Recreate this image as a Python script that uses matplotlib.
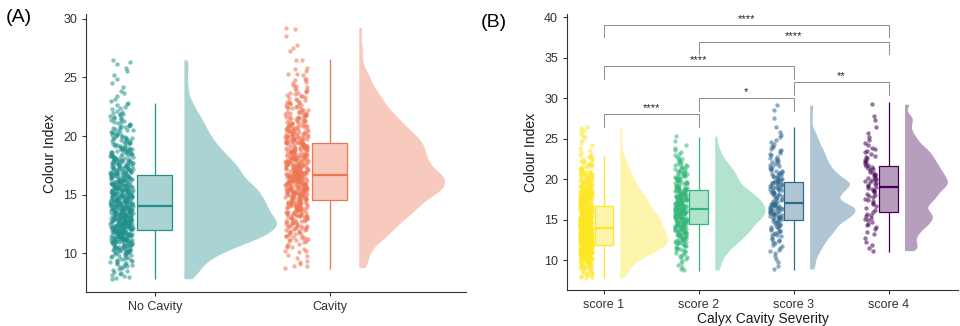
import numpy as np
import matplotlib
matplotlib.use("Agg")
import matplotlib.pyplot as plt
from matplotlib.patches import Rectangle
from matplotlib.colors import to_rgba

plt.rcParams['font.family'] = ['Liberation Sans', 'DejaVu Sans']

# colour index counts per 1-unit bin (first bin starts at the group minimum)
score_labels = ["score 1", "score 2", "score 3", "score 4"]
score_min = [7.8, 8.7, 8.8, 11.0]
score_max = [26.6, 25.6, 29.3, 29.5]
score1_counts = [3, 12, 21, 42, 69, 81, 72, 68, 62, 50, 45, 35, 26, 20, 15, 9, 4, 3, 3, 3]
score2_counts = [2, 4, 7, 12, 19, 25, 29, 36, 37, 33, 26, 18, 16, 12, 7, 4, 2, 1]
score3_counts = [1, 2, 3, 5, 7, 10, 12, 18, 20, 11, 14, 18, 12, 9, 7, 6, 4, 3, 1, 1, 1, 1]
score4_counts = [3, 2, 3, 5, 6, 4, 6, 7, 9, 8, 7, 6, 5, 3, 2, 1, 2, 0, 1]

# boxplot stats: whisker low, q1, median, q3, whisker high
score_box = [
    [7.8, 11.9, 14.0, 16.7, 22.8],
    [8.7, 14.4, 16.25, 18.7, 25.2],
    [8.8, 14.9, 17.0, 19.7, 26.5],
    [11.0, 15.95, 19.0, 21.6, 29.5],
]
cavity_labels = ["No Cavity", "Cavity"]
cavity_box = [
    [7.8, 11.95, 14.05, 16.7, 22.8],
    [8.7, 14.55, 16.7, 19.4, 26.6],
]

# pairwise comparisons in panel B
comp_pairs = [(1, 2), (2, 3), (3, 4), (1, 3), (2, 4), (1, 4)]
comp_heights = [28.0, 30.0, 32.0, 34.0, 37.0, 39.1]
comp_labels = ["****", "*", "**", "****", "****", "****"]

score_colors = ["#FDE725", "#35B779", "#31688E", "#440154"]
cavity_colors = ["#21908C", "#EE7452"]

rng = np.random.default_rng(3)


def expand(counts, lo, hi):
    start = int(np.floor(lo))
    edges = [lo] + list(range(start + 1, start + len(counts))) + [hi]
    ys = []
    for k, c in enumerate(counts):
        if c == 0:
            continue
        a, b = edges[k], edges[k + 1]
        ys.append(a + (b - a) * (np.arange(c) + 0.5) / c)
    return np.concatenate(ys)


def kde(y, grid, bw=0.5):
    z = (grid[:, None] - y[None, :]) / bw
    return np.exp(-0.5 * z ** 2).sum(1) / (len(y) * bw * np.sqrt(2 * np.pi))


def raincloud(ax, x0, y, box, color, scale):
    jit = rng.uniform(-0.065, 0.065, len(y))
    ax.scatter(x0 - 0.19 + jit, y, s=10, color=color, alpha=0.55, lw=0, zorder=2)
    grid = np.linspace(y.min(), y.max(), 300)
    d = kde(y, grid)
    ax.fill_betweenx(grid, x0 + 0.166, x0 + 0.166 + d * scale,
                     color=to_rgba(color, 0.38), lw=0, zorder=1)
    lo, q1, med, q3, hi = box
    ax.add_patch(Rectangle((x0 - 0.1, q1), 0.2, q3 - q1, facecolor=to_rgba(color, 0.38),
                           edgecolor=color, lw=0.9, zorder=3))
    ax.vlines(x0, lo, q1, color=color, lw=0.9, zorder=3)
    ax.vlines(x0, q3, hi, color=color, lw=0.9, zorder=3)
    ax.hlines(med, x0 - 0.1, x0 + 0.1, color=color, lw=1.6, zorder=4)


def style(ax):
    for s in ["top", "right"]:
        ax.spines[s].set_visible(False)
    for s in ["left", "bottom"]:
        ax.spines[s].set_color("#333333")
        ax.spines[s].set_linewidth(0.8)
    ax.tick_params(length=3, width=0.8, color="#333333", labelcolor="#333333", labelsize=9)


score_y = [expand(c, lo, hi) for c, lo, hi in
           zip([score1_counts, score2_counts, score3_counts, score4_counts], score_min, score_max)]
cavity_y = [score_y[0], np.concatenate(score_y[1:])]

fig = plt.figure(figsize=(9.6, 3.26), dpi=100)
axA = fig.add_axes([0.0896, 0.1043, 0.3958, 0.8527])
axB = fig.add_axes([0.5906, 0.1104, 0.4074, 0.8466])


def panel_scale(groups):
    peak = max(kde(y, np.linspace(y.min(), y.max(), 300)).max() for y in groups)
    return 0.53 / peak


scaleA = panel_scale(cavity_y)
for i, (y, box, col) in enumerate(zip(cavity_y, cavity_box, cavity_colors)):
    raincloud(axA, i + 1, y, box, col, scaleA)
axA.set_xlim(0.606, 2.78)
axA.set_ylim(6.7, 30.4)
axA.set_xticks([1, 2], cavity_labels)
axA.set_yticks([10, 15, 20, 25, 30])
axA.set_ylabel("Colour Index", fontsize=10, color="#1a1a1a")
style(axA)

scaleB = panel_scale(score_y)
for i, (y, box, col) in enumerate(zip(score_y, score_box, score_colors)):
    raincloud(axB, i + 1, y, box, col, scaleB)
for (a, b), h, lab in zip(comp_pairs, comp_heights, comp_labels):
    axB.plot([a, a, b, b], [h - 1.6, h, h, h - 1.6], color="#8c8c8c", lw=0.7)
    axB.text((a + b) / 2, h + 0.1, lab, ha="center", va="bottom", fontsize=8, color="#222222")
axB.set_xlim(0.61, 4.73)
axB.set_ylim(6.3, 40.4)
axB.set_xticks([1, 2, 3, 4], score_labels)
axB.set_yticks([10, 15, 20, 25, 30, 35, 40])
axB.set_ylabel("Colour Index", fontsize=10, color="#1a1a1a")
axB.set_xlabel("Calyx Cavity Severity", fontsize=10, color="#1a1a1a", labelpad=1)
style(axB)

fig.text(0.006, 0.945, "(A)", fontsize=14, va="center", ha="left")
fig.text(0.501, 0.93, "(B)", fontsize=14, va="center", ha="left")

fig.savefig("out.png", dpi=100)
